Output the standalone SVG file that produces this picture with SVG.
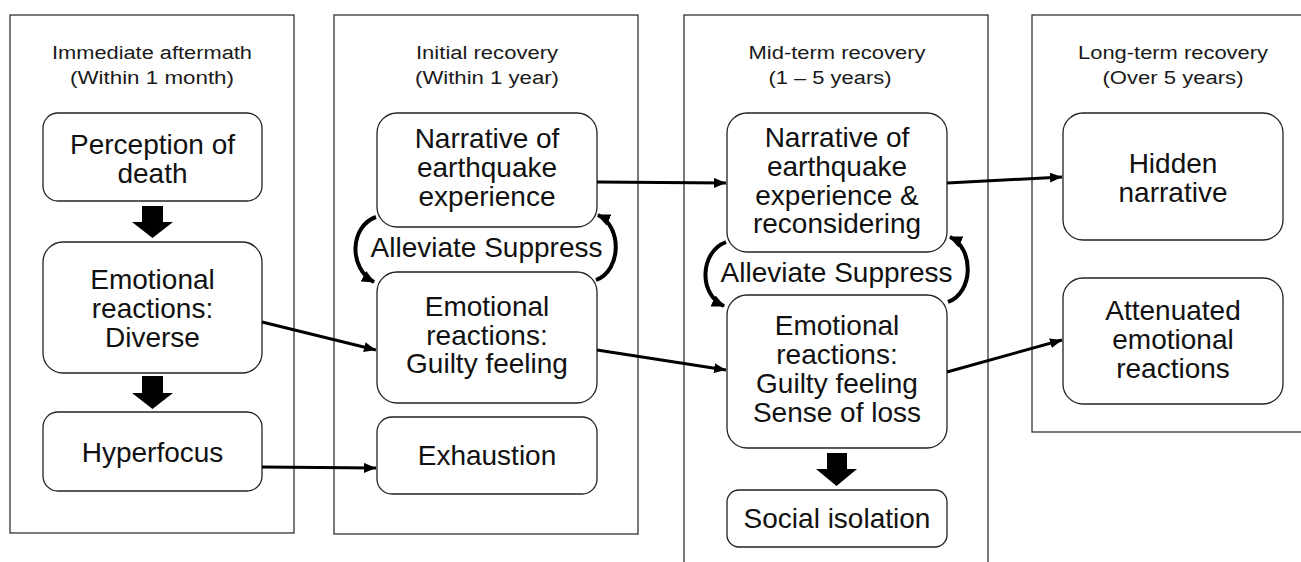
<svg xmlns="http://www.w3.org/2000/svg" width="1301" height="562" viewBox="0 0 1301 562">
<style>
.panel{fill:#fff;stroke:#333;stroke-width:1.3}
.node{fill:#fff;stroke:#222;stroke-width:1.3}
.title{font-family:"Liberation Sans",Arial,sans-serif;font-size:18px;fill:#1a1a1a;text-anchor:middle}
.t{font-family:"Liberation Sans",Arial,sans-serif;font-size:28px;fill:#111;text-anchor:middle}
.conn{fill:none;stroke:#000;stroke-width:3}
.curve{fill:none;stroke:#000;stroke-width:4}
.block{fill:#000}
</style>
<defs>
<marker id="ah" markerUnits="userSpaceOnUse" markerWidth="13" markerHeight="10" refX="12" refY="5" orient="auto">
<path d="M0,0 L12,5 L0,10 z" fill="#000"/>
</marker>
<marker id="ah2" markerUnits="userSpaceOnUse" markerWidth="14" markerHeight="12" refX="12" refY="6" orient="auto">
<path d="M0,0 L13,6 L0,12 z" fill="#000"/>
</marker>
</defs>
<rect width="1301" height="562" fill="#fff"/>
<g id="panels">
<rect class="panel" x="10" y="15" width="284" height="518"/>
<rect class="panel" x="334" y="15" width="304" height="519"/>
<rect class="panel" x="684" y="15" width="304" height="570"/>
<rect class="panel" x="1032" y="15" width="290" height="417"/>
<text class="title" x="152" y="59" textLength="200" lengthAdjust="spacingAndGlyphs">Immediate aftermath</text>
<text class="title" x="152" y="84" textLength="164" lengthAdjust="spacingAndGlyphs">(Within 1 month)</text>
<text class="title" x="487" y="59" textLength="142" lengthAdjust="spacingAndGlyphs">Initial recovery</text>
<text class="title" x="487" y="84" textLength="144" lengthAdjust="spacingAndGlyphs">(Within 1 year)</text>
<text class="title" x="837" y="59" textLength="177" lengthAdjust="spacingAndGlyphs">Mid-term recovery</text>
<text class="title" x="830" y="84" textLength="123" lengthAdjust="spacingAndGlyphs">(1 – 5 years)</text>
<text class="title" x="1173" y="59" textLength="190" lengthAdjust="spacingAndGlyphs">Long-term recovery</text>
<text class="title" x="1173" y="84" textLength="141" lengthAdjust="spacingAndGlyphs">(Over 5 years)</text>
</g>
<g id="n-perception">
<rect class="node" x="43" y="113" width="219" height="88" rx="15"/>
<text class="t" x="152.5" y="154">Perception of</text>
<text class="t" x="152.5" y="183">death</text>
</g>
<g id="n-diverse">
<rect class="node" x="43" y="242" width="219" height="131" rx="20"/>
<text class="t" x="152.5" y="289">Emotional</text>
<text class="t" x="152.5" y="318">reactions:</text>
<text class="t" x="152.5" y="347">Diverse</text>
</g>
<g id="n-hyperfocus">
<rect class="node" x="43" y="412" width="219" height="79" rx="15"/>
<text class="t" x="152.5" y="462">Hyperfocus</text>
</g>
<g id="n-narrative1">
<rect class="node" x="377" y="113" width="220" height="114" rx="20"/>
<text class="t" x="487" y="148">Narrative of</text>
<text class="t" x="487" y="177">earthquake</text>
<text class="t" x="487" y="206">experience</text>
</g>
<g id="n-guilty1">
<rect class="node" x="377" y="272" width="220" height="131" rx="20"/>
<text class="t" x="487" y="316">Emotional</text>
<text class="t" x="487" y="345">reactions:</text>
<text class="t" x="487" y="373">Guilty feeling</text>
</g>
<g id="n-exhaustion">
<rect class="node" x="377" y="417" width="220" height="77" rx="15"/>
<text class="t" x="487" y="465">Exhaustion</text>
</g>
<g id="n-narrative2">
<rect class="node" x="727" y="113" width="220" height="139" rx="20"/>
<text class="t" x="837" y="147">Narrative of</text>
<text class="t" x="837" y="176">earthquake</text>
<text class="t" x="837" y="205">experience &amp;</text>
<text class="t" x="837" y="233">reconsidering</text>
</g>
<g id="n-guilty2">
<rect class="node" x="727" y="295" width="220" height="153" rx="20"/>
<text class="t" x="837" y="335">Emotional</text>
<text class="t" x="837" y="364">reactions:</text>
<text class="t" x="837" y="393">Guilty feeling</text>
<text class="t" x="837" y="422">Sense of loss</text>
</g>
<g id="n-isolation">
<rect class="node" x="727" y="490" width="220" height="57" rx="12"/>
<text class="t" x="837" y="528">Social isolation</text>
</g>
<g id="n-hidden">
<rect class="node" x="1063" y="113" width="220" height="127" rx="20"/>
<text class="t" x="1173" y="173">Hidden</text>
<text class="t" x="1173" y="202">narrative</text>
</g>
<g id="n-attenuated">
<rect class="node" x="1063" y="278" width="220" height="126" rx="20"/>
<text class="t" x="1173" y="320">Attenuated</text>
<text class="t" x="1173" y="349">emotional</text>
<text class="t" x="1173" y="378">reactions</text>
</g>
<g id="connectors">
<polygon class="block" points="142,206 163,206 163,222 173,222 152.5,238 132,222 142,222"/>
<polygon class="block" points="142,376 163,376 163,393 173,393 152.5,409 132,393 142,393"/>
<polygon class="block" points="827,453 847,453 847,469 857,469 836.5,486 816,469 827,469"/>
<line class="conn" x1="262" y1="322" x2="376" y2="350" marker-end="url(#ah)"/>
<line class="conn" x1="262" y1="467" x2="376" y2="468" marker-end="url(#ah)"/>
<line class="conn" x1="597" y1="182" x2="726" y2="183" marker-end="url(#ah)"/>
<line class="conn" x1="597" y1="350" x2="726" y2="370" marker-end="url(#ah)"/>
<line class="conn" x1="947" y1="183" x2="1062" y2="177" marker-end="url(#ah)"/>
<line class="conn" x1="947" y1="372" x2="1062" y2="340" marker-end="url(#ah)"/>
<path class="curve" d="M376,217 C350,226 348,268 374,282" marker-end="url(#ah2)"/>
<path class="curve" d="M596,280 C622,270 622,226 598,215" marker-end="url(#ah2)"/>
<path class="curve" d="M726,242 C700,252 698,294 724,306" marker-end="url(#ah2)"/>
<path class="curve" d="M948,302 C974,292 974,248 950,237" marker-end="url(#ah2)"/>
<text class="t" x="486.5" y="257">Alleviate Suppress</text>
<text class="t" x="836.5" y="282">Alleviate Suppress</text>
</g>
</svg>
